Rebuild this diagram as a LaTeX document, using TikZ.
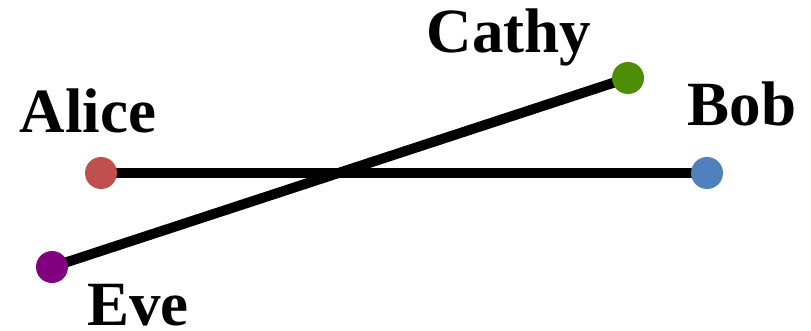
\documentclass[tikz,border=0pt]{standalone}
\usepackage{fontspec}
\setmainfont{Liberation Serif}
\definecolor{cAlice}{RGB}{192,80,77}
\definecolor{cBob}{RGB}{79,129,189}
\definecolor{cCathy}{RGB}{78,142,6}
\definecolor{cEve}{RGB}{128,0,128}
\begin{document}
\begin{tikzpicture}[x=1pt,y=1pt,
  dot/.style={circle,inner sep=0pt,minimum size=32pt},
  lbl/.style={anchor=base,font=\fontsize{63}{63}\selectfont\bfseries,inner sep=0pt},
  edge/.style={line width=10pt,black}]
\useasboundingbox (0,0) rectangle (811,330);
\coordinate (a) at (101,157);
\coordinate (b) at (707,157);
\coordinate (c) at (628,252);
\coordinate (e) at (52,63);
\draw[edge] (a) -- (b);
\draw[edge] (e) -- (c);
\node[dot,fill=cAlice] (A) at (a) {};
\node[dot,fill=cBob] (B) at (b) {};
\node[dot,fill=cCathy] (C) at (c) {};
\node[dot,fill=cEve] (E) at (e) {};
\node[lbl] (LA) at (88,197) {Alice};
\node[lbl] (LB) at (742,205) {Bob};
\node[lbl] (LC) at (509,277) {Cathy};
\node[lbl] (LE) at (138,5) {Eve};
\end{tikzpicture}
\end{document}
